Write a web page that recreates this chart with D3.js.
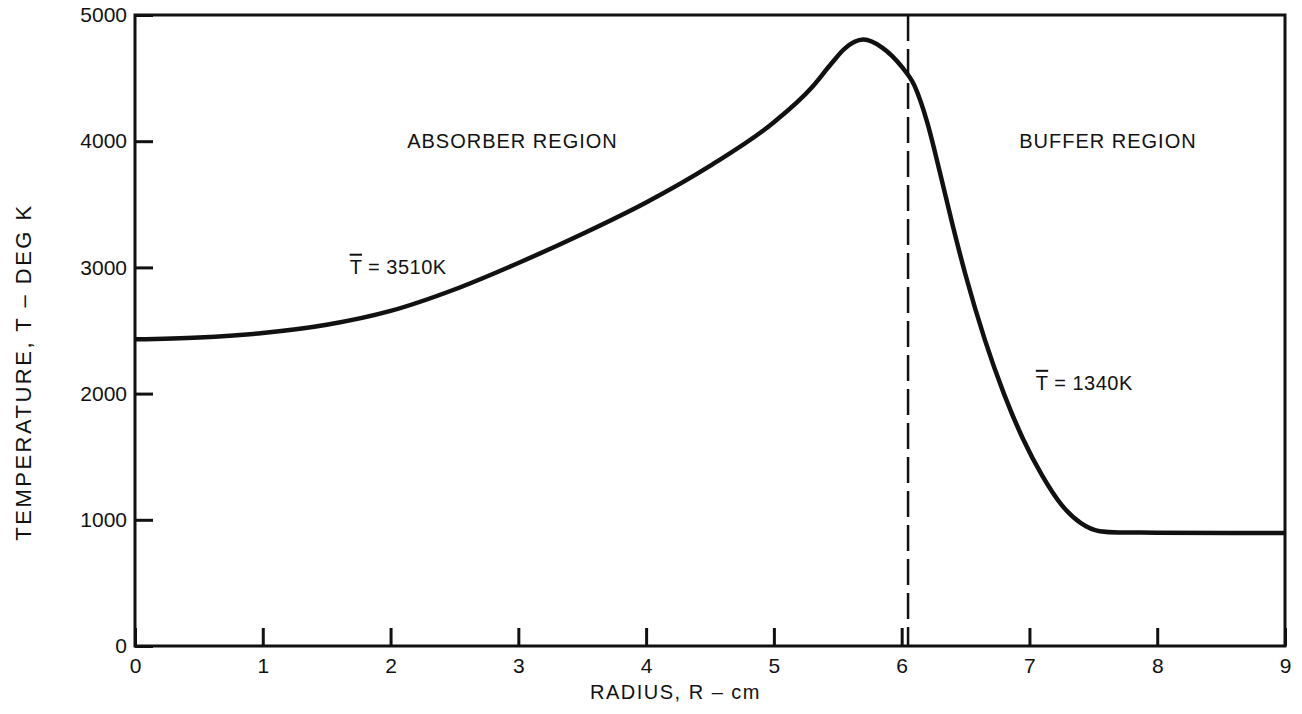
<!DOCTYPE html>
<html>
<head>
<meta charset="utf-8">
<script src="https://cdn.jsdelivr.net/npm/d3@7"></script>
<style>
  body { margin: 0; background: #fff; }
  svg text { font-family: 'Liberation Sans', Arial, sans-serif; fill: #111; }
</style>
</head>
<body>
<svg id="chart" width="1302" height="714"></svg>
<script>
// radius (cm) and temperature (K)
const radius = [0, 0.5, 1.0, 1.5, 2.0, 2.5, 3.0, 3.5, 4.0, 4.5, 5.0, 5.3, 5.45, 5.55, 5.7, 5.85, 6.0, 6.1, 6.2, 6.3, 6.4, 6.5, 6.65, 6.8, 6.95, 7.1, 7.25, 7.4, 7.55, 7.7, 8.0, 9.0];
const temperature = [2430, 2445, 2480, 2545, 2655, 2825, 3035, 3265, 3515, 3805, 4150, 4430, 4615, 4730, 4805, 4740, 4590, 4440, 4150, 3750, 3330, 2940, 2430, 2000, 1640, 1350, 1120, 975, 910, 900, 898, 895];

const xTicks = [0, 1, 2, 3, 4, 5, 6, 7, 8, 9];
const yTicks = [0, 1000, 2000, 3000, 4000, 5000];
const boundary = 6.05; // absorber / buffer interface (dashed)

const annotations = [
  { r: 2.13, t: 3950, label: 'ABSORBER REGION', bar: false },
  { r: 6.92, t: 3950, label: 'BUFFER REGION', bar: false },
  { r: 1.68, t: 2950, label: ' = 3510K', bar: true },
  { r: 7.05, t: 2030, label: ' = 1340K', bar: true }
];

const width = 1302, height = 714;
const margin = { top: 15, right: 17, bottom: 68, left: 135 };
const innerW = width - margin.left - margin.right;
const innerH = height - margin.top - margin.bottom;

const svg = d3.select('#chart');
const g = svg.append('g')
  .attr('transform', `translate(${margin.left},${margin.top})`);

const x = d3.scaleLinear().domain([0, 9]).range([0, innerW]);
const y = d3.scaleLinear().domain([0, 5000]).range([innerH, 0]);

// axes: inward ticks, labels outside
const xAxis = d3.axisBottom(x).tickValues(xTicks).tickFormat(d3.format('d'))
  .tickSizeInner(-18).tickSizeOuter(0).tickPadding(12);
const yAxis = d3.axisLeft(y).tickValues(yTicks).tickFormat(d3.format('d'))
  .tickSizeInner(-18).tickSizeOuter(0).tickPadding(8);

const gx = g.append('g').attr('transform', `translate(0,${innerH})`).call(xAxis);
const gy = g.append('g').call(yAxis);
[gx, gy].forEach(a => {
  a.select('.domain').remove();
  a.selectAll('line').attr('stroke', '#111').attr('stroke-width', 3);
  a.selectAll('text').style('font-size', '21px').style('fill', '#111');
});

// frame
g.append('rect')
  .attr('x', 0).attr('y', 0)
  .attr('width', innerW).attr('height', innerH)
  .attr('fill', 'none').attr('stroke', '#111').attr('stroke-width', 3);

// boundary dashed line
g.append('line')
  .attr('x1', x(boundary)).attr('x2', x(boundary))
  .attr('y1', y(5000)).attr('y2', y(0))
  .attr('stroke', '#111').attr('stroke-width', 2.5)
  .attr('stroke-dasharray', '26,8');

// temperature profile
const pts = radius.map((r, i) => [r, temperature[i]]);
const line = d3.line()
  .x(d => x(d[0]))
  .y(d => y(d[1]))
  .curve(d3.curveMonotoneX);
g.append('path')
  .datum(pts)
  .attr('d', line)
  .attr('fill', 'none')
  .attr('stroke', '#111')
  .attr('stroke-width', 4.5)
  .attr('stroke-linejoin', 'round');

// annotations
annotations.forEach(a => {
  const t = g.append('text')
    .attr('x', x(a.r)).attr('y', y(a.t))
    .style('font-size', '20px')
    .style('letter-spacing', a.bar ? '0.5px' : '1px');
  if (a.bar) {
    t.append('tspan').text('T').style('text-decoration', 'overline');
  }
  t.append('tspan').text(a.label);
});

// axis titles
svg.append('text')
  .attr('x', margin.left + x(4.23)).attr('y', 699)
  .attr('text-anchor', 'middle')
  .style('font-size', '20px')
  .style('letter-spacing', '1.5px')
  .text('RADIUS, R \u2013 cm');

svg.append('text')
  .attr('transform', `translate(31,${372}) rotate(-90)`)
  .attr('text-anchor', 'middle')
  .style('font-size', '22px')
  .style('letter-spacing', '2.5px')
  .text('TEMPERATURE, T \u2013 DEG K');
</script>
</body>
</html>
